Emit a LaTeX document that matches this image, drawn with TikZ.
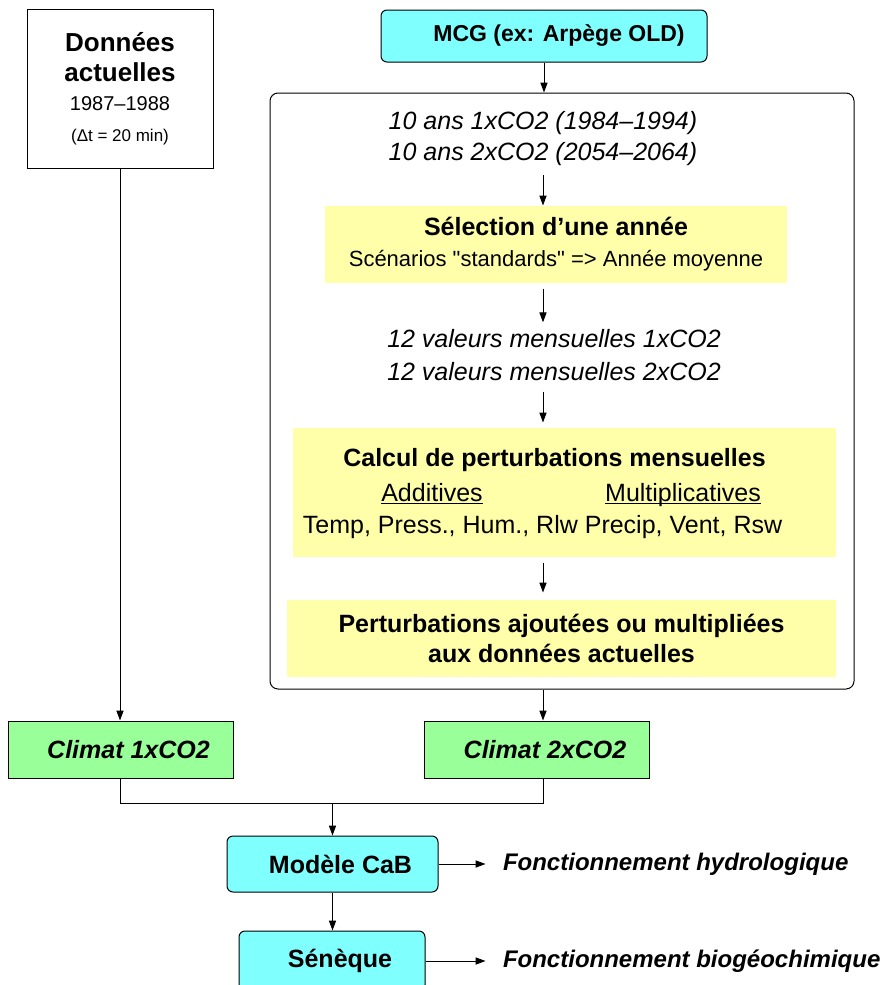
\documentclass[tikz,border=0pt]{standalone}
\usepackage{fontspec}
\setmainfont{Liberation Sans}[Ligatures=TeXOff]
\usetikzlibrary{arrows.meta,positioning}
\definecolor{cyanfill}{RGB}{128,255,255}
\definecolor{greenfill}{RGB}{153,255,153}
\definecolor{yellowfill}{RGB}{255,255,170}
\newcommand{\souligne}[1]{$\underline{\smash{\hbox{#1}}}$}

\begin{document}
\begin{tikzpicture}[x=0.5pt, y=-0.5pt, line width=0.5pt,
    every node/.style={font=\fontsize{12.5}{15.5}\selectfont, inner sep=0pt},
    arr/.style={-{Triangle[length=5pt,width=3.6pt]}},
    modelbox/.style={draw, fill=cyanfill, rounded corners=3pt, font=\bfseries\fontsize{12.5}{15}\selectfont},
    climbox/.style={draw, fill=greenfill, minimum width=112.5pt, minimum height=28.5pt, font=\bfseries\itshape\fontsize{12.5}{15}\selectfont},
    stepbox/.style={fill=yellowfill, align=center},
    result/.style={inner xsep=8.5pt, font=\bfseries\itshape\fontsize{12}{14}\selectfont},
    shiftright/.style={execute at begin node={\hspace*{#1}}}]
  \useasboundingbox (0,0) rectangle (893,985);

  % donnees actuelles
  \node[draw, minimum width=93pt, minimum height=79.5pt] (data) at (120,88.5) {};
  \node[align=center, font=\bfseries\fontsize{13}{15}\selectfont] (datatitle) at (120,57) {Données\\actuelles};
  \node[font=\fontsize{10}{12}\selectfont] (dataperiod) at (120,104) {1987–1988};
  \node[font=\fontsize{8.5}{10}\selectfont] (datastep) at (120,137) {(Δt = 20 min)};

  % modele de circulation generale
  \node[modelbox, minimum width=163pt, minimum height=26pt, shiftright=15pt, font=\bfseries\fontsize{11.5}{14}\selectfont] (mcg) at (544,36) {MCG (ex: Arpège OLD)};
  \node[draw, rounded corners=4pt, minimum width=292pt, minimum height=298pt] (frame) at (562,391) {};
  \coordinate (axis) at (543,0);

  \node[align=center, font=\itshape\fontsize{12.5}{15.5}\selectfont] (runs) at (543,138.5) {10 ans 1xCO2 (1984–1994)\\10 ans 2xCO2 (2054–2064)};
  \node[stepbox, minimum width=231pt, minimum height=38.5pt] (select) at (556,244.5) {\textbf{Sélection d’une année}\\{\fontsize{11}{15.5}\selectfont Scénarios "standards" => Année moyenne}};
  \node[align=center, font=\itshape\fontsize{12.5}{16.5}\selectfont] (months) at (554,355.5) {12 valeurs mensuelles 1xCO2\\12 valeurs mensuelles 2xCO2};

  \node[stepbox, minimum width=271.5pt, minimum height=64.5pt] (calc) at (564.5,492.5) {};
  \node[font=\bfseries\fontsize{12.5}{15}\selectfont] (calctitle) at (554.5,460) {Calcul de perturbations mensuelles};
  \node[anchor=base] (add) at (432,501) {\souligne{Additives}};
  \node[anchor=base] (mult) at (683,501) {\souligne{Multiplicatives}};
  \node (vars) at (542.5,527) {Temp, Press., Hum., Rlw Precip, Vent, Rsw};

  \node[stepbox, minimum width=274.5pt, minimum height=38.5pt, font=\bfseries\fontsize{12.5}{15}\selectfont] (apply) at (561.5,638.5) {Perturbations ajoutées ou multipliées\\aux données actuelles};

  % climats et modeles
  \node[climbox, shiftright=8pt] (clim1) at (120.5,749.5) {Climat 1xCO2};
  \node[climbox, shiftright=8pt] (clim2) at (537,749.5) {Climat 2xCO2};
  \node[modelbox, minimum width=105.5pt, minimum height=28pt, shiftright=8pt] (cab) at (332.5,864) {Modèle CaB};
  \node[modelbox, minimum width=93pt, minimum height=30pt, shiftright=8pt] (seneque) at (332,961) {Sénèque};
  \node[result, right=23.5pt of cab] (hydro) {Fonctionnement hydrologique};
  \node[result, right=30pt of seneque] (bio) {Fonctionnement biogéochimique};

  % connecteurs
  \draw[arr] (data.south) -- (data.south |- clim1.north);
  \draw[arr] (mcg.south) -- (mcg.south |- frame.north);
  \draw[arr] ([yshift=-4.5pt]runs.south) -- (runs.south |- select.north);
  \draw[arr] ([yshift=-2.5pt]select.south -| axis) -- ([yshift=3.5pt]months.north -| axis);
  \draw[arr] ([yshift=-5pt]months.south -| axis) -- ([yshift=2.5pt]calc.north -| axis);
  \draw[arr] ([yshift=-2.5pt]calc.south -| axis) -- ([yshift=3.5pt]apply.north -| axis);
  \draw[arr] (frame.south -| axis) -- (axis |- clim2.north);
  \draw (clim1.south) -- ++(0,-12.5pt) coordinate (merge) -| (axis |- clim2.south);
  \draw[arr] (merge -| cab.north) -- (cab.north);
  \draw[arr] (cab.south) -- (cab.south |- seneque.north);
  \draw[arr] (cab.east) -- (hydro.west);
  \draw[arr] (seneque.east) -- (bio.west);
\end{tikzpicture}
\end{document}
